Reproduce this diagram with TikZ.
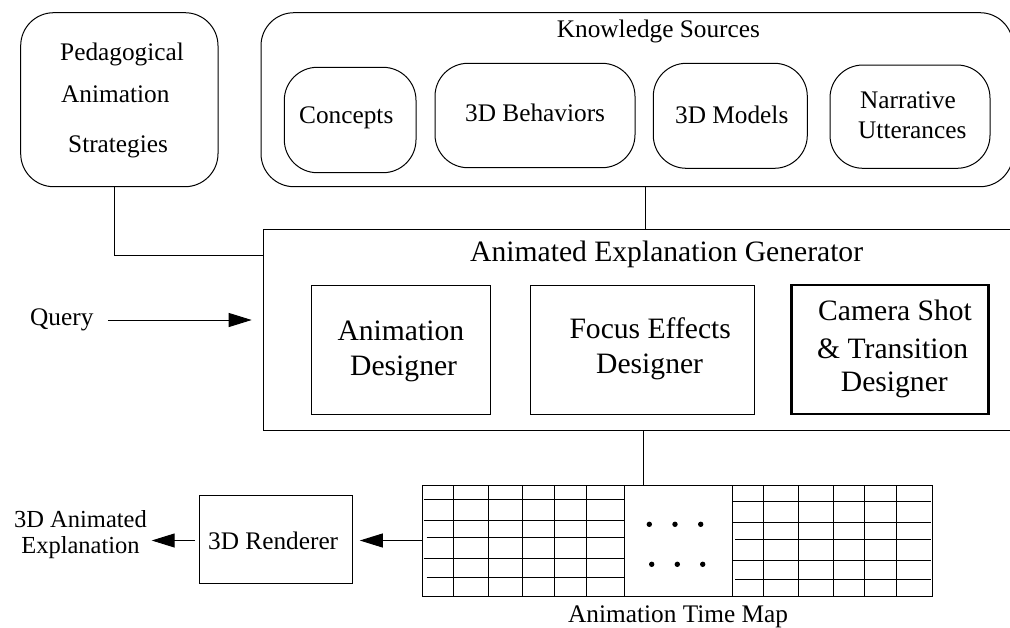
\documentclass[tikz,border=0pt]{standalone}
\usepackage{fontspec}
\setmainfont{Liberation Serif}
\usetikzlibrary{arrows.meta,calc,fit}
\begin{document}
\begin{tikzpicture}[x=1pt,y=-1pt,
  ln/.style={line width=1pt},
  rbox/.style={draw,line width=1pt,rounded corners=33pt,inner sep=0pt},
  sbox/.style={draw,line width=1pt,inner sep=0pt},
  gl/.style={line width=0.9pt},
  st/.style={inner sep=0pt,anchor=base west,font=\fontsize{25.3}{28}\selectfont},
  bt/.style={inner sep=0pt,anchor=base west,font=\fontsize{29.6}{33}\selectfont},
  arr/.style={line width=1pt,-{Triangle[length=23pt,width=14pt]}}]
\useasboundingbox (0,0) rectangle (1010,627);

% boxes
\node[rbox, fit={(20.7,12.7)(218,186.7)}] (ped) {};
\node[rbox, fit={(261,12.7)(1013,186.7)}] (ks) {};
\node[rbox, fit={(284.3,67.3)(416,172.7)}] (concepts) {};
\node[rbox, fit={(435,63.3)(635,167.7)}] (behav) {};
\node[rbox, fit={(653.3,63.3)(807.3,168.3)}] (models) {};
\node[rbox, fit={(830,65)(990,168.3)}] (narr) {};
\node[sbox, fit={(263.3,229.3)(1016,430.7)}] (gen) {};
\node[sbox, fit={(311.7,285)(490.7,414)}] (anim) {};
\node[sbox, fit={(530.7,285)(754,414)}] (focus) {};
\node[sbox, line width=2.5pt, fit={(791.7,285)(988.3,414)}] (cam) {};
\node[sbox, fit={(199.3,495)(352.7,583.3)}] (rend) {};
\node[sbox, fit={(422.3,485)(932.3,596)}] (grid) {};

% texts
\node[st] (t1) at (60,60) {Pedagogical};
\node[st] (t2) at (61,102) {Animation};
\node[st] (t3) at (68,152) {Strategies};
\node[st] (tks) at (556.7,37) {Knowledge Sources};
\node[st] (tcon) at (299,123) {Concepts};
\node[st] (tbeh) at (465,121.7) {3D Behaviors};
\node[st] (tmod) at (675,123.3) {3D Models};
\node[st] (tn1) at (860,108.3) {Narrative};
\node[st] (tn2) at (858,138) {Utterances};
\node[bt] (tgen) at (470,261.7) {Animated Explanation Generator};
\node[bt] (ta1) at (337.3,340) {Animation};
\node[bt] (ta2) at (350,375) {Designer};
\node[bt] (tf1) at (569.3,338.3) {Focus Effects};
\node[bt] (tf2) at (596,373.3) {Designer};
\node[bt] (tc1) at (818,320) {Camera Shot};
\node[bt] (tc2) at (817,358) {\& Transition};
\node[bt] (tc3) at (840.7,391.7) {Designer};
\node[st] (query) at (30,325) {Query};
\node[st] (trend) at (208,549) {3D Renderer};
\node[inner sep=0pt, anchor=north, align=center, font=\fontsize{24.5}{26}\selectfont]
  (texpl) at (80.5,510.5) {3D Animated\\Explanation};
\node[st] (tmap) at (568,622) {Animation Time Map};

% grid internals
\foreach \x in {453.3,488.3,522.7,554.3,586,624.3,732.3,763.3,798.3,833.3,864.3,896.7}
  \draw[gl] (\x,485) -- (\x,596);
\foreach \y/\s in {499.3/423.7,520.7/423.7,537.3/426.7,558.3/423.7,577.3/426.7}
  \draw[gl] (\s,\y) -- (624.3,\y);
\foreach \y/\s in {501.7/733.3,522.3/733.3,539.3/735,560.7/733.3,579.3/735}
  \draw[gl] (\s,\y) -- (930.7,\y);
\foreach \x/\y in {649.3/524.3,675/524.3,700.7/524.3,651.7/564.3,677.3/564.3,702.7/564.3}
  \fill (\x,\y) circle (2.7pt);

% connectors
\coordinate (kx) at (645.7,0);
\coordinate (gx) at (643.3,0);
\coordinate (qtip) at (251.7,320);
\coordinate (etip) at (151.7,540.5);
\draw[ln] ($(ped.south)+(-5.35,0)$) |- ($(gen.north west)+(0,26.7)$);
\draw[ln] (ks.south -| kx) -- (gen.north -| kx);
\draw[ln] (gen.south -| gx) -- (grid.north -| gx);
\draw[arr] ($(query.base east)+(14.3,-5)$) -- (qtip);
\draw[arr, shorten >=6.6pt] (grid.west) -- (grid.west -| rend.east);
\draw[arr] ($(rend.west |- grid.west)+(-4,0)$) -- (etip);
\end{tikzpicture}
\end{document}
